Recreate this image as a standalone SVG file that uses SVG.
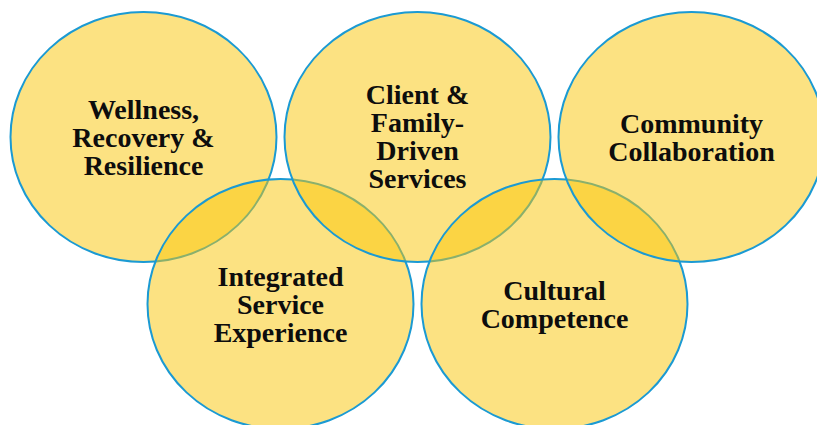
<svg xmlns="http://www.w3.org/2000/svg" width="817" height="425" viewBox="0 0 817 425">
<style>
.c{fill:#FAC506;fill-opacity:0.5;stroke:#1B9AD3;stroke-width:2}
.t{font-family:"Liberation Serif","Times New Roman",serif;font-weight:bold;font-size:28px;fill:#0d0d0d;text-anchor:middle}
</style>
<rect width="817" height="425" fill="#ffffff"/>
<g id="node-wellness">
<ellipse class="c" cx="143.5" cy="137" rx="133" ry="125"/>
<text class="t" x="143.5" y="119">Wellness,</text>
<text class="t" x="143.5" y="147">Recovery &amp;</text>
<text class="t" x="143.5" y="175">Resilience</text>
</g>
<g id="node-integrated">
<ellipse class="c" cx="280.5" cy="304" rx="133" ry="125"/>
<text class="t" x="280.5" y="286">Integrated</text>
<text class="t" x="280.5" y="314">Service</text>
<text class="t" x="280.5" y="342">Experience</text>
</g>
<g id="node-client">
<ellipse class="c" cx="417.5" cy="137" rx="133" ry="125"/>
<text class="t" x="417.5" y="104">Client &amp;</text>
<text class="t" x="417.5" y="132">Family-</text>
<text class="t" x="417.5" y="160">Driven</text>
<text class="t" x="417.5" y="188">Services</text>
</g>
<g id="node-cultural">
<ellipse class="c" cx="554.5" cy="304" rx="133" ry="125"/>
<text class="t" x="554.5" y="300">Cultural</text>
<text class="t" x="554.5" y="328">Competence</text>
</g>
<g id="node-community">
<ellipse class="c" cx="691.5" cy="137" rx="133" ry="125"/>
<text class="t" x="691.5" y="133">Community</text>
<text class="t" x="691.5" y="161">Collaboration</text>
</g>
<g id="connectors"></g>
</svg>
